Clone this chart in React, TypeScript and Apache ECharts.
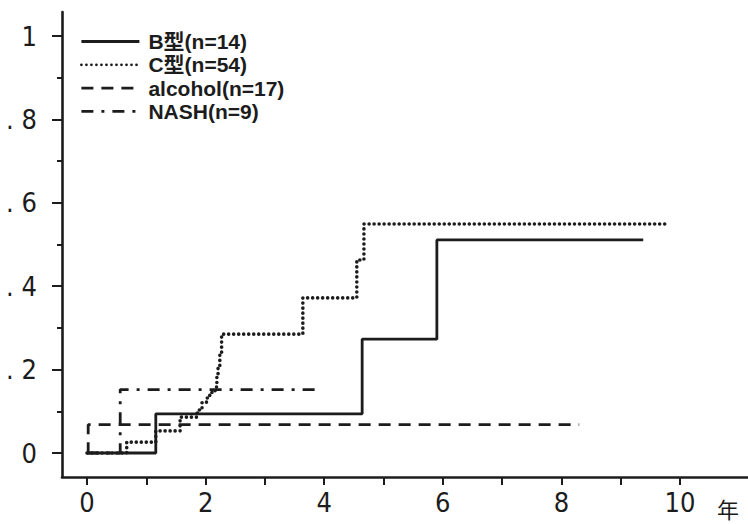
import React, { useEffect, useRef } from "react";
import * as echarts from "echarts";

// Cumulative incidence step curves: [years, proportion]
const seriesNames = ["B型(n=14)", "C型(n=54)", "alcohol(n=17)", "NASH(n=9)"];
const bTimes = [0, 1.16, 4.64, 5.9, 9.38];
const bValues = [0, 0.094, 0.273, 0.511, 0.511];
const cTimes = [0, 0.67, 1.16, 1.57, 1.86, 1.94, 2.02, 2.07, 2.16, 2.19, 2.21, 2.24, 2.27, 3.64, 4.55, 4.67, 9.75];
const cValues = [0, 0.026, 0.053, 0.086, 0.103, 0.122, 0.132, 0.145, 0.158, 0.182, 0.206, 0.24, 0.285, 0.372, 0.463, 0.549, 0.549];
const alcoholTimes = [0, 0.02, 8.3];
const alcoholValues = [0, 0.068, 0.068];
const nashTimes = [0, 0.56, 3.84];
const nashValues = [0, 0.152, 0.152];

const xTicks = [0, 2, 4, 6, 8, 10];
const yTickLabels: Record<string, string> = { "0": "0", "0.2": ". 2", "0.4": ". 4", "0.6": ". 6", "0.8": ". 8", "1": "1" };
const xUnit = "年";

const INK = "#1c1c1c";
const NUM_FONT = "'Liberation Sans Narrow', 'DejaVu Sans Condensed', 'Arial Narrow', sans-serif";
const LEG_FONT = "'Liberation Sans', Arial, 'Noto Sans CJK JP', sans-serif";

const zip = (t: number[], v: number[]) => t.map((x, i) => [x, v[i]]);

const hiddenAxis = (gridIndex: number, min: number, max: number) => ({
  gridIndex, type: "value", min, max, show: false,
  axisLine: { show: false }, axisTick: { show: false }, axisLabel: { show: false }, splitLine: { show: false },
});

export default function App() {
  const ref = useRef<HTMLDivElement>(null);
  useEffect(() => {
    if (!ref.current) return;
    const chart = echarts.init(ref.current, null, { renderer: "svg" });
    const styles = [
      { type: "solid", width: 2.8, cap: "butt" },
      { type: [0.01, 5], width: 3.6, cap: "round" },
      { type: [12, 8], width: 2.8, cap: "butt" },
      { type: [12, 8, 3, 8], width: 2.8, cap: "butt" },
    ];
    const datas = [zip(bTimes, bValues), zip(cTimes, cValues), zip(alcoholTimes, alcoholValues), zip(nashTimes, nashValues)];
    chart.setOption({
      animation: false,
      backgroundColor: "#fff",
      grid: [
        { left: 62, right: 0, top: 12, bottom: 47 },   // frame
        { left: 87, right: 68, top: 36, bottom: 71 },  // data
        { left: 62, right: 68, top: 36, bottom: 71 },  // y ticks
        { left: 87, right: 68, top: 36, bottom: 47 },  // x ticks
      ],
      xAxis: [
        {
          gridIndex: 0, type: "value", min: 0, max: 1,
          axisLine: { show: true, lineStyle: { color: INK, width: 2.6 } },
          axisTick: { show: false }, axisLabel: { show: false }, splitLine: { show: false },
        },
        hiddenAxis(1, 0, 10),
        hiddenAxis(2, 0, 10),
        {
          gridIndex: 3, type: "value", min: 0, max: 10, interval: 1,
          axisLine: { show: false },
          axisTick: { show: true, length: 8, lineStyle: { color: INK, width: 2 } },
          axisLabel: {
            show: true, margin: 12, color: INK, fontSize: 27, fontFamily: NUM_FONT,
            formatter: (v: number) => (xTicks.includes(v) ? String(v) : ""),
          },
          splitLine: { show: false },
        },
      ],
      yAxis: [
        {
          gridIndex: 0, type: "value", min: 0, max: 1,
          axisLine: { show: true, lineStyle: { color: INK, width: 2.6 } },
          axisTick: { show: false }, axisLabel: { show: false }, splitLine: { show: false },
        },
        hiddenAxis(1, 0, 1),
        {
          gridIndex: 2, type: "value", min: 0, max: 1, interval: 0.2,
          axisLine: { show: false },
          axisTick: { show: true, length: 10, lineStyle: { color: INK, width: 2 } },
          minorTick: { show: true, splitNumber: 2, length: 5, lineStyle: { color: INK, width: 2 } },
          axisLabel: {
            show: true, margin: 25, color: INK, fontSize: 27, fontFamily: NUM_FONT,
            formatter: (v: number) => yTickLabels[String(Math.round(v * 10) / 10)] ?? "",
          },
          splitLine: { show: false },
        },
        hiddenAxis(3, 0, 1),
      ],
      legend: {
        orient: "vertical", left: 80, top: 31, padding: 0, itemWidth: 58, itemHeight: 14, itemGap: 2.3,
        data: seriesNames,
        itemStyle: { opacity: 0 },
        lineStyle: { width: 2.8 },
        textStyle: { color: INK, fontSize: 21, fontWeight: "bold", fontFamily: LEG_FONT, lineHeight: 21, padding: [0, 0, 0, 4] },
      },
      graphic: [
        { type: "text", left: 717, top: 497, style: { text: xUnit, fontSize: 22, fill: INK, fontFamily: "'Noto Sans CJK JP', sans-serif" } },
      ],
      series: seriesNames.map((name, i) => ({
        name, type: "line", step: "end", xAxisIndex: 1, yAxisIndex: 1,
        symbol: "none", clip: false,
        lineStyle: { color: INK, width: styles[i].width, type: styles[i].type, cap: styles[i].cap },
        itemStyle: { color: INK },
        data: datas[i],
      })),
    });
    return () => chart.dispose();
  }, []);
  return <div ref={ref} style={{ width: 748, height: 524, position: "absolute", left: 0, top: 0 }} />;
}
